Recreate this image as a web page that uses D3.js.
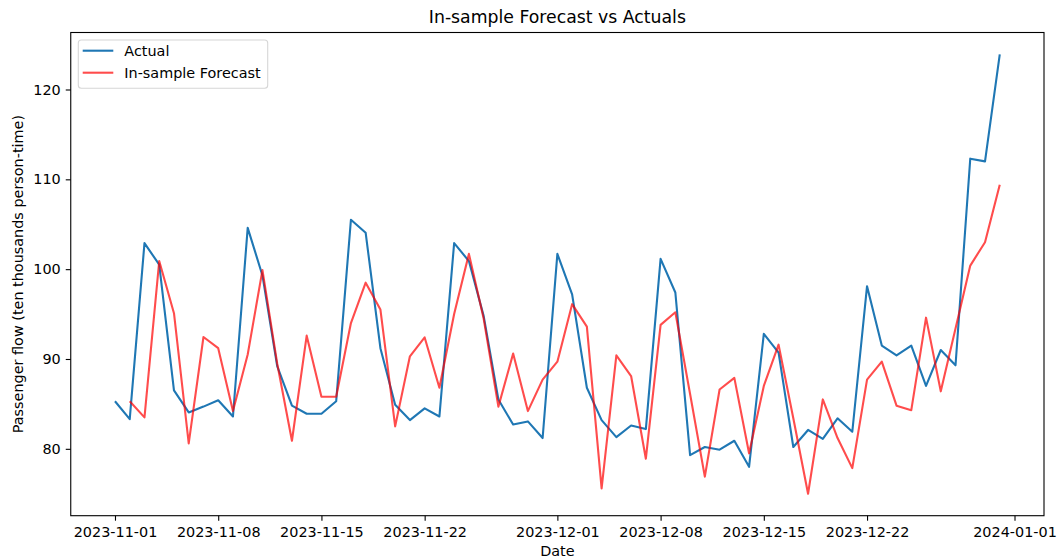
<!DOCTYPE html>
<html>
<head>
<meta charset="utf-8">
<script src="https://cdn.jsdelivr.net/npm/d3@7"></script>
<style>
  html, body { margin: 0; padding: 0; background: #fff; }
  svg { display: block; }
  text { font-family: "DejaVu Sans", sans-serif; fill: #000; }
</style>
</head>
<body>
<svg id="chart" width="1058" height="560"></svg>
<script>
// Daily observations, 2023-11-01 .. 2023-12-31
const startDate = "2023-11-01";
const endDate = "2023-12-31";

// Actual passenger flow (ten thousands person-time)
const actual = [
  85.3, 83.3, 102.9, 100.5, 86.5, 84.05, 84.7, 85.4, 83.6, 104.6,
  99.3, 89.2, 84.8, 83.9, 83.9, 85.3, 105.5, 104.05, 91.2, 84.9,
  83.2, 84.5, 83.6, 102.9, 100.9, 94.8, 85.5, 82.7, 83.05, 81.2,
  101.7, 97.2, 86.8, 83.2, 81.3, 82.6, 82.2, 101.15, 97.4, 79.3,
  80.2, 79.9, 80.9, 78.0, 92.8, 90.7, 80.2, 82.1, 81.1, 83.4,
  81.9, 98.1, 91.5, 90.4, 91.5, 87.0, 91.0, 89.3, 112.3, 112.0,
  123.9
];

// In-sample forecast (no value on the first day)
const forecast = [
  null, 85.3, 83.5, 100.9, 95.1, 80.6, 92.45, 91.2, 84.2, 90.5,
  99.9, 89.5, 80.9, 92.6, 85.8, 85.8, 94.0, 98.5, 95.5, 82.5,
  90.3, 92.4, 86.8, 95.0, 101.7, 94.5, 84.7, 90.6, 84.2, 87.7,
  89.7, 96.1, 93.6, 75.6, 90.4, 88.1, 78.9, 93.8, 95.2, 86.1,
  76.9, 86.6, 87.9, 79.5, 87.0, 91.6, 83.4, 75.0, 85.5, 81.2,
  77.85, 87.7, 89.7, 84.8, 84.3, 94.6, 86.4, 93.4, 100.4, 103.0,
  109.4
];

const xTickLabels = [
  "2023-11-01", "2023-11-08", "2023-11-15", "2023-11-22",
  "2023-12-01", "2023-12-08", "2023-12-15", "2023-12-22", "2024-01-01"
];
const yTickValues = [80, 90, 100, 110, 120];

const seriesNames = ["Actual", "In-sample Forecast"];

// ---- layout ----
const svg = d3.select("#chart");
const W = 1058, H = 560;
const plot = { left: 70.75, right: 1044, top: 32.5, bottom: 515.7 };
const FONT = 14.4;

svg.append("rect").attr("width", W).attr("height", H).attr("fill", "#fff");

const parse = d3.utcParse("%Y-%m-%d");
const dates = d3.utcDay.range(parse(startDate), d3.utcDay.offset(parse(endDate), 1));

// matplotlib-style 5% padding around the data extent
const t0 = +dates[0], t1 = +dates[dates.length - 1];
const padT = (t1 - t0) * 0.05;
const x = d3.scaleUtc()
  .domain([new Date(t0 - padT), new Date(t1 + padT)])
  .range([plot.left, plot.right]);

const allVals = actual.concat(forecast).filter(v => v != null);
const vMin = d3.min(allVals), vMax = d3.max(allVals);
const padV = (vMax - vMin) * 0.05;
const y = d3.scaleLinear()
  .domain([vMin - padV, vMax + padV])
  .range([plot.bottom, plot.top]);

// ---- lines ----
const clip = svg.append("clipPath").attr("id", "plotclip")
  .append("rect")
  .attr("x", plot.left).attr("y", plot.top)
  .attr("width", plot.right - plot.left).attr("height", plot.bottom - plot.top);

const line = d3.line()
  .defined(d => d.v != null)
  .x(d => x(d.t))
  .y(d => y(d.v));

const actualData = dates.map((t, i) => ({ t, v: actual[i] }));
const forecastData = dates.map((t, i) => ({ t, v: forecast[i] }));

const g = svg.append("g").attr("clip-path", "url(#plotclip)");
g.append("path")
  .datum(actualData)
  .attr("d", line)
  .attr("fill", "none")
  .attr("stroke", "#1f77b4")
  .attr("stroke-width", 2.1)
  .attr("stroke-linejoin", "round");
g.append("path")
  .datum(forecastData)
  .attr("d", line)
  .attr("fill", "none")
  .attr("stroke", "red")
  .attr("stroke-opacity", 0.7)
  .attr("stroke-width", 2.1)
  .attr("stroke-linejoin", "round");

// ---- axes ----
const xAxis = d3.axisBottom(x)
  .tickValues(xTickLabels.map(parse))
  .tickFormat(d3.utcFormat("%Y-%m-%d"))
  .tickSize(5)
  .tickPadding(6);
const gx = svg.append("g")
  .attr("transform", `translate(0,${plot.bottom})`)
  .call(xAxis);

const yAxis = d3.axisLeft(y)
  .tickValues(yTickValues)
  .tickFormat(d3.format("d"))
  .tickSize(5)
  .tickPadding(5);
const gy = svg.append("g")
  .attr("transform", `translate(${plot.left},0)`)
  .call(yAxis);

[gx, gy].forEach(a => {
  a.select(".domain").remove();
  a.selectAll(".tick line").attr("stroke", "#000").attr("stroke-width", 1.1);
  a.selectAll(".tick text")
    .attr("font-size", FONT)
    .attr("font-family", "DejaVu Sans, sans-serif")
    .attr("fill", "#000");
});

// frame
svg.append("rect")
  .attr("x", plot.left).attr("y", plot.top)
  .attr("width", plot.right - plot.left).attr("height", plot.bottom - plot.top)
  .attr("fill", "none")
  .attr("stroke", "#000")
  .attr("stroke-width", 1.1);

// ---- titles ----
svg.append("text")
  .attr("x", (plot.left + plot.right) / 2)
  .attr("y", 23)
  .attr("text-anchor", "middle")
  .attr("font-size", 17.3)
  .text("In-sample Forecast vs Actuals");

svg.append("text")
  .attr("x", (plot.left + plot.right) / 2)
  .attr("y", 556)
  .attr("text-anchor", "middle")
  .attr("font-size", FONT)
  .text("Date");

svg.append("text")
  .attr("transform", `translate(23,${(plot.top + plot.bottom) / 2}) rotate(-90)`)
  .attr("text-anchor", "middle")
  .attr("font-size", FONT)
  .text("Passenger flow (ten thousands person-time)");

// ---- legend ----
const legend = svg.append("g");
legend.append("rect")
  .attr("x", 78.3).attr("y", 40)
  .attr("width", 189.4).attr("height", 48.3)
  .attr("rx", 3).attr("ry", 3)
  .attr("fill", "#fff").attr("fill-opacity", 0.8)
  .attr("stroke", "#d6d6d6").attr("stroke-width", 1.1);

const legendColors = [
  { stroke: "#1f77b4", opacity: 1 },
  { stroke: "red", opacity: 0.7 }
];
seriesNames.forEach((name, i) => {
  const ly = 50.7 + i * 22;
  legend.append("line")
    .attr("x1", 82.7).attr("x2", 113.3)
    .attr("y1", ly).attr("y2", ly)
    .attr("stroke", legendColors[i].stroke)
    .attr("stroke-opacity", legendColors[i].opacity)
    .attr("stroke-width", 2.1);
  legend.append("text")
    .attr("x", 124.3).attr("y", ly + 5.2)
    .attr("font-size", FONT)
    .text(name);
});
</script>
</body>
</html>
